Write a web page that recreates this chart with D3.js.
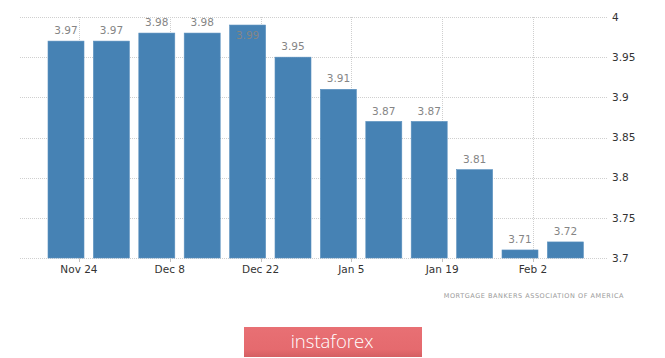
<!DOCTYPE html>
<html>
<head>
<meta charset="utf-8">
<script src="https://cdn.jsdelivr.net/npm/d3@7"></script>
<style>
  html, body { margin: 0; padding: 0; background: #fff; }
  svg { display: block; }
</style>
</head>
<body>
<svg id="chart" width="665" height="358"></svg>
<script>
// Data
const dates = ["2019-11-22","2019-11-29","2019-12-06","2019-12-13","2019-12-20","2019-12-27",
               "2020-01-03","2020-01-10","2020-01-17","2020-01-24","2020-01-31","2020-02-07"];
const values = [3.97, 3.97, 3.98, 3.98, 3.99, 3.95, 3.91, 3.87, 3.87, 3.81, 3.71, 3.72];
const xTickDates = ["2019-11-24","2019-12-08","2019-12-22","2020-01-05","2020-01-19","2020-02-02"];
const xTickLabels = ["Nov 24","Dec 8","Dec 22","Jan 5","Jan 19","Feb 2"];
const yTicks = [3.7, 3.75, 3.8, 3.85, 3.9, 3.95, 4];
const yTickLabels = ["3.7","3.75","3.8","3.85","3.9","3.95","4"];
const sourceText = "MORTGAGE BANKERS ASSOCIATION OF AMERICA";
const logoText = "instaforex";

const parse = d3.utcParse("%Y-%m-%d");
const svg = d3.select("#chart");

const x = d3.scaleUtc()
  .domain([parse("2019-11-15"), parse("2020-02-14")])
  .range([20.6, 610.8]);
const y = d3.scaleLinear().domain([3.7, 4]).range([258, 17]);

const gridLeft = 20, gridRight = 607;
const barW = 36;

// Horizontal grid
svg.append("g").selectAll("line").data(yTicks).join("line")
  .attr("x1", gridLeft).attr("x2", gridRight)
  .attr("y1", d => Math.round(y(d)) + 0.5).attr("y2", d => Math.round(y(d)) + 0.5)
  .attr("stroke", "#cfcfcf").attr("stroke-width", 1).attr("stroke-dasharray", "1,1");

// Vertical grid
svg.append("g").selectAll("line").data(xTickDates).join("line")
  .attr("x1", d => Math.round(x(parse(d))) + 0.5).attr("x2", d => Math.round(x(parse(d))) + 0.5)
  .attr("y1", 17).attr("y2", 258)
  .attr("stroke", "#cfcfcf").attr("stroke-width", 1).attr("stroke-dasharray", "1,1");

// Bars
svg.append("g").selectAll("rect").data(values).join("rect")
  .attr("x", (d, i) => x(parse(dates[i])) - barW / 2)
  .attr("width", barW)
  .attr("y", d => y(d))
  .attr("height", d => y(3.7) - y(d))
  .attr("fill", "#4682b4")
  .attr("stroke", "#5a90be")
  .attr("stroke-width", 0.6);

// Value labels
svg.append("g").selectAll("text").data(values).join("text")
  .attr("x", (d, i) => x(parse(dates[i])))
  .attr("y", d => (y(d) - 10.5 < 20 ? y(d) + 10 : y(d) - 10.5))
  .attr("dy", "0.35em")
  .attr("text-anchor", "middle")
  .attr("font-family", "'DejaVu Sans', sans-serif")
  .attr("font-size", 10.5)
  .attr("fill", "#858585")
  .text(d => d.toFixed(2));

// X axis ticks
const xAxisG = svg.append("g").attr("transform", "translate(0,258)");
xAxisG.selectAll("line").data(xTickDates).join("line")
  .attr("x1", d => Math.round(x(parse(d))) + 0.5).attr("x2", d => Math.round(x(parse(d))) + 0.5)
  .attr("y1", 0).attr("y2", 4)
  .attr("stroke", "#c0c0c0");
xAxisG.selectAll("text").data(xTickDates).join("text")
  .attr("x", d => x(parse(d)))
  .attr("y", 11)
  .attr("dy", "0.35em")
  .attr("text-anchor", "middle")
  .attr("font-family", "'DejaVu Sans', sans-serif")
  .attr("font-size", 10.5)
  .attr("fill", "#333")
  .text((d, i) => xTickLabels[i]);

// Y axis labels (right)
svg.append("g").selectAll("text").data(yTicks).join("text")
  .attr("x", 612)
  .attr("y", d => y(d))
  .attr("dy", "0.35em")
  .attr("font-family", "'DejaVu Sans', sans-serif")
  .attr("font-size", 10.5)
  .attr("fill", "#333")
  .text((d, i) => yTickLabels[i]);

// Source
svg.append("text")
  .attr("x", 624).attr("y", 296)
  .attr("dy", "0.35em")
  .attr("text-anchor", "end")
  .attr("font-family", "'DejaVu Sans', sans-serif")
  .attr("font-size", 6.5)
  .attr("letter-spacing", 0.55)
  .attr("fill", "#9a9a9a")
  .text(sourceText);

// Logo
const grad = svg.append("defs").append("linearGradient")
  .attr("id", "lg").attr("x1", 0).attr("y1", 0).attr("x2", 0).attr("y2", 1);
grad.append("stop").attr("offset", "0%").attr("stop-color", "#e87074");
grad.append("stop").attr("offset", "75%").attr("stop-color", "#e56a6e");
grad.append("stop").attr("offset", "100%").attr("stop-color", "#d45f63");
svg.append("rect")
  .attr("x", 244).attr("y", 327).attr("width", 178).attr("height", 30)
  .attr("fill", "url(#lg)");
svg.append("text")
  .attr("x", 332).attr("y", 342)
  .attr("dy", "0.35em")
  .attr("text-anchor", "middle")
  .attr("font-family", "'Open Sans', sans-serif")
  .attr("font-weight", 300)
  .attr("font-size", 18.5)
  .attr("fill", "#fff")
  .text(logoText);
</script>
</body>
</html>
